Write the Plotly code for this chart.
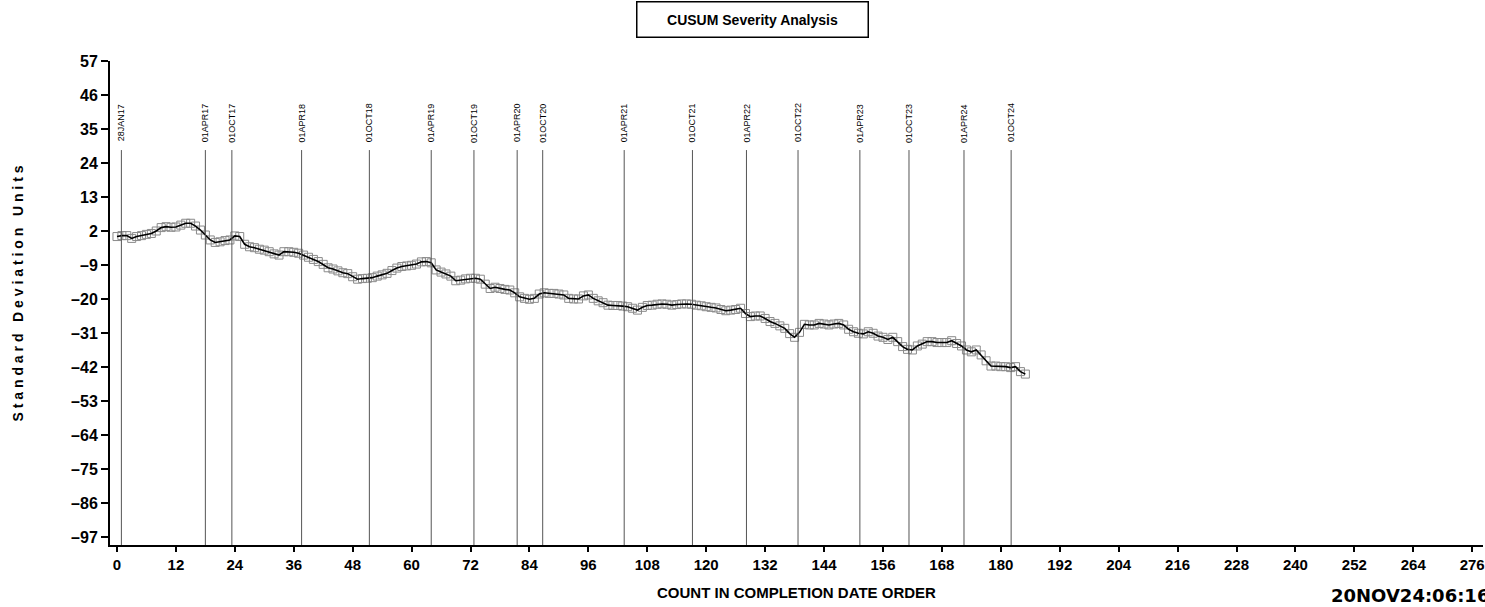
import plotly.graph_objects as go

# ---------------- data ----------------
count = list(range(186))
cusum = [
    0.2, 0.5, 0.5, -0.4, 0.2, 0.5, 0.9, 1.2, 2.0, 3.1,
    3.4, 3.2, 3.3, 3.9, 4.5, 4.5, 3.6, 2.3, 0.7, -0.9,
    -1.7, -1.5, -1.1, -0.9, 0.4, 0.2, -2.3, -3.1, -3.4, -3.9,
    -4.2, -4.7, -5.4, -5.8, -4.7, -4.7, -4.9, -5.2, -5.8, -6.5,
    -7.2, -7.9, -8.8, -9.9, -10.3, -10.9, -11.5, -11.8, -12.8, -13.6,
    -13.4, -13.3, -13.1, -12.6, -12.2, -11.7, -10.8, -10.0, -9.5, -9.3,
    -9.1, -8.7, -8.0, -7.9, -8.3, -10.6, -11.3, -11.9, -12.6, -14.1,
    -13.9, -13.5, -13.3, -13.3, -13.6, -15.2, -16.6, -16.2, -16.6, -16.9,
    -17.1, -18.0, -19.3, -19.8, -20.1, -19.8, -18.4, -18.0, -18.2, -18.2,
    -18.4, -18.7, -19.8, -20.0, -20.0, -19.0, -18.7, -19.8, -20.6, -21.2,
    -22.0, -22.1, -22.1, -22.3, -22.5, -23.0, -23.6, -22.7, -22.1, -22.0,
    -21.7, -21.6, -21.7, -22.0, -21.8, -21.6, -21.6, -21.7, -22.0, -22.2,
    -22.5, -22.7, -22.9, -23.4, -23.8, -23.6, -23.4, -23.0, -24.7, -25.7,
    -25.5, -25.5, -26.3, -27.3, -27.9, -28.7, -29.5, -31.2, -32.4, -30.8,
    -28.2, -28.4, -28.4, -27.9, -28.1, -28.4, -28.1, -27.9, -28.4, -29.8,
    -30.6, -31.1, -31.3, -30.6, -31.1, -32.0, -32.4, -33.1, -32.4, -33.8,
    -35.4, -36.3, -36.5, -35.2, -34.6, -33.8, -33.8, -34.1, -34.1, -34.1,
    -33.5, -34.4, -35.2, -36.5, -37.1, -36.5, -38.1, -40.0, -41.7, -41.7,
    -41.9, -41.9, -42.2, -41.9, -43.5, -44.3,
]

event_pos = [0.9, 18.0, 23.4, 37.6, 51.4, 64.0, 72.7, 81.5, 86.7,
             103.3, 117.2, 128.2, 138.7, 151.3, 161.3, 172.5, 182.1]
event_labels = ["28JAN17", "01APR17", "01OCT17", "01APR18", "01OCT18",
                "01APR19", "01OCT19", "01APR20", "01OCT20", "01APR21",
                "01OCT21", "01APR22", "01OCT22", "01APR23", "01OCT23",
                "01APR24", "01OCT24"]

y_ticks = [57, 46, 35, 24, 13, 2, -9, -20, -31, -42, -53, -64, -75, -86, -97]
x_ticks = [0, 12, 24, 36, 48, 60, 72, 84, 96, 108, 120, 132, 144, 156,
           168, 180, 192, 204, 216, 228, 240, 252, 264, 276]

title_text = "CUSUM Severity Analysis"
y_title = "Standard Deviation Units"
x_title = "COUNT IN COMPLETION DATE ORDER"
stamp_text = "20NOV24:06:16"

# ---------------- figure ----------------
FONT = "Liberation Sans, Arial, sans-serif"

fig = go.Figure()

fig.add_trace(go.Scatter(
    x=count, y=cusum, mode="markers",
    marker=dict(symbol="square-open", size=8, color="#8a8a8a",
                line=dict(width=1, color="#8a8a8a")),
    hoverinfo="skip", showlegend=False,
))
fig.add_trace(go.Scatter(
    x=count, y=cusum, mode="lines",
    line=dict(color="black", width=1.6),
    showlegend=False,
))

shapes = []
annotations = []
for pos, lab in zip(event_pos, event_labels):
    shapes.append(dict(type="line", xref="x", yref="paper",
                       x0=pos, x1=pos, y0=0, y1=0.816,
                       line=dict(color="#555555", width=1)))
    annotations.append(dict(x=pos, y=0.872, xref="x", yref="paper",
                            text=lab, textangle=-90, showarrow=False,
                            font=dict(family=FONT, size=9, color="black"),
                            xanchor="center", yanchor="middle"))

# title box
annotations.append(dict(
    x=0.4676, y=1.124, xref="paper", yref="paper",
    text="<b>" + title_text + "</b>", showarrow=False,
    xanchor="center", yanchor="top",
    width=228, height=32, align="center", valign="middle",
    bordercolor="black", borderwidth=1.5, borderpad=1,
    font=dict(family=FONT, size=14, color="black"),
))
# y-axis title (letter spaced)
annotations.append(dict(
    x=-0.0669, y=0.52, xref="paper", yref="paper",
    text="<b>" + " ".join(list(y_title)) + "</b>",
    textangle=-90, showarrow=False,
    xanchor="center", yanchor="middle",
    font=dict(family=FONT, size=14, color="black"),
))
# x-axis title
annotations.append(dict(
    x=0.5, y=-0.099, xref="paper", yref="paper",
    text="<b>" + x_title + "</b>", showarrow=False,
    xanchor="center", yanchor="middle",
    font=dict(family=FONT, size=15, color="black"),
))
# timestamp
annotations.append(dict(
    x=0.888, y=-0.105, xref="paper", yref="paper",
    text="<b>" + stamp_text + "</b>", showarrow=False,
    xanchor="left", yanchor="middle",
    font=dict(family="DejaVu Sans, sans-serif", size=18, color="black"),
))

y_ticktext = [str(v) if v >= 0 else "\u2013" + str(-v) for v in y_ticks]

fig.update_layout(
    width=1485, height=607, autosize=False,
    margin=dict(l=110, r=0, t=61, b=62, pad=0),
    plot_bgcolor="white", paper_bgcolor="white",
    shapes=shapes, annotations=annotations,
    xaxis=dict(
        range=[-1.42, 278.2], tickmode="array", tickvals=x_ticks,
        showgrid=False, zeroline=False, showline=True,
        linecolor="black", linewidth=1.5,
        ticks="outside", ticklen=5, tickwidth=1.5, tickcolor="black",
        ticklabeloverflow="allow",
        tickfont=dict(family=FONT, size=15, color="black", weight="bold"),
    ),
    yaxis=dict(
        range=[-99.6, 57], tickmode="array", tickvals=y_ticks,
        ticktext=y_ticktext,
        showgrid=False, zeroline=False, showline=True,
        linecolor="black", linewidth=2,
        ticks="outside", ticklen=7, tickwidth=1.5, tickcolor="black",
        tickfont=dict(family=FONT, size=16, color="black", weight="bold"),
    ),
)

fig.write_html("out.html")
